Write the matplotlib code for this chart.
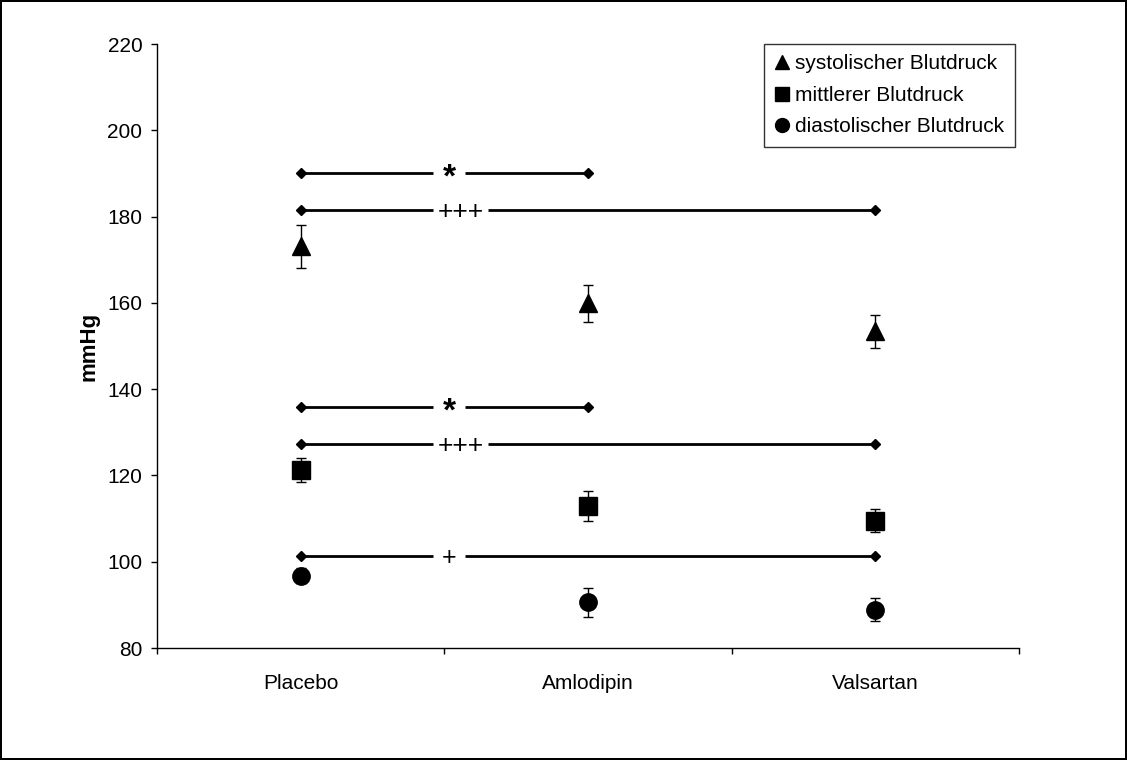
"""
Blutdruck unter Placebo, Amlodipin und Valsartan (Mittelwert +/- SEM)
"""
import numpy as np
import matplotlib
matplotlib.use("Agg")
import matplotlib.pyplot as plt
from matplotlib.lines import Line2D

plt.rcParams["font.family"] = ["Liberation Sans", "DejaVu Sans"]

# --- Daten ---
gruppen = ["Placebo", "Amlodipin", "Valsartan"]

systolisch = [173.1, 159.9, 153.4]
systolisch_sem = [5.0, 4.35, 3.85]

mittel = [121.3, 113.0, 109.5]
mittel_sem = [2.85, 3.45, 2.7]

diastolisch = [96.8, 90.6, 88.9]
diastolisch_sem = [1.8, 3.3, 2.7]

# Signifikanzbalken: von Gruppe, bis Gruppe, Höhe (mmHg), Symbol
sig_von = [0, 0, 0, 0, 0]
sig_bis = [1, 2, 1, 2, 2]
sig_hoehe = [190.0, 181.5, 135.9, 127.4, 101.4]
sig_text = ["*", "+++", "*", "+++", "+"]

# --- Figur ---
W, H = 1127, 760
fig = plt.figure(figsize=(W / 100, H / 100), dpi=100)
ax = fig.add_axes([157 / W, 1 - 648 / H, (1019 - 157) / W, (648 - 44) / H])

x = np.arange(len(gruppen))

serien = [
    (systolisch, systolisch_sem, "^", "systolischer Blutdruck"),
    (mittel, mittel_sem, "s", "mittlerer Blutdruck"),
    (diastolisch, diastolisch_sem, "o", "diastolischer Blutdruck"),
]
handles = []
for werte, sem, marker, name in serien:
    ax.plot(x, werte, linestyle="none", marker=marker, ms=12.5,
            color="black", zorder=3)
    ax.errorbar(x, werte, yerr=sem, fmt="none", ecolor="black",
                elinewidth=1, capsize=3.5, capthick=1, zorder=4)
    handles.append(Line2D([], [], linestyle="none", marker=marker,
                          ms=10, color="black", label=name))

# Signifikanzbalken mit Lücke für das Symbol
gap_links = 0.461
gap_breite = {"*": 0.111, "+": 0.111, "+++": 0.19}
symbol_stil = {"*": dict(fontsize=24, fontweight="bold", dy=-3.5),
               "+": dict(fontsize=18, fontweight="normal", dy=-1.5),
               "+++": dict(fontsize=19, fontweight="normal", dy=-1.5)}
for a, b, h, t in zip(sig_von, sig_bis, sig_hoehe, sig_text):
    x0, x1 = x[a], x[b]
    gw = gap_breite[t]
    ax.plot([x0, gap_links], [h, h], color="black", lw=2,
            solid_capstyle="butt", zorder=2)
    ax.plot([gap_links + gw, x1], [h, h], color="black", lw=2,
            solid_capstyle="butt", zorder=2)
    ax.plot([x0, x1], [h, h], linestyle="none", marker="D", ms=4.6,
            color="black", zorder=2)
    st = symbol_stil[t]
    ax.annotate(t, xy=(gap_links + gw / 2, h), xytext=(0, st["dy"]),
                textcoords="offset points", ha="center", va="center",
                fontsize=st["fontsize"], fontweight=st["fontweight"])

# Achsen
ax.set_xlim(-0.5, 2.5)
ax.set_ylim(80, 220)
ax.set_yticks(np.arange(80, 221, 20))
ax.set_xticks([-0.5, 0.5, 1.5, 2.5])
ax.set_xticklabels([])
ax.set_xticks(x, minor=True)
ax.set_xticklabels(gruppen, minor=True)
ax.tick_params(axis="x", which="major", direction="out", length=4, width=1)
ax.tick_params(axis="x", which="minor", length=0, pad=19, labelsize=15)
ax.tick_params(axis="y", direction="out", length=4, width=1, pad=6.5,
               labelsize=15)
for s in ("top", "right"):
    ax.spines[s].set_visible(False)
for s in ("left", "bottom"):
    ax.spines[s].set_linewidth(1)

ax.set_ylabel("mmHg", fontsize=16, fontweight="bold")
ax.yaxis.set_label_coords(-0.067, 0.5)

leg = ax.legend(handles=handles, loc="upper right",
                bbox_to_anchor=(0.9954, 1.0), borderaxespad=0,
                fontsize=15, frameon=True, fancybox=False,
                handlelength=0.7, handletextpad=0.3, labelspacing=0.6,
                borderpad=0.5)
leg.get_frame().set_edgecolor("black")
leg.get_frame().set_linewidth(1)

# Rahmen um die ganze Grafik
fig.patch.set_edgecolor("black")
fig.patch.set_linewidth(1.5)

fig.savefig("out.png", dpi=100, facecolor="white", edgecolor="black")
